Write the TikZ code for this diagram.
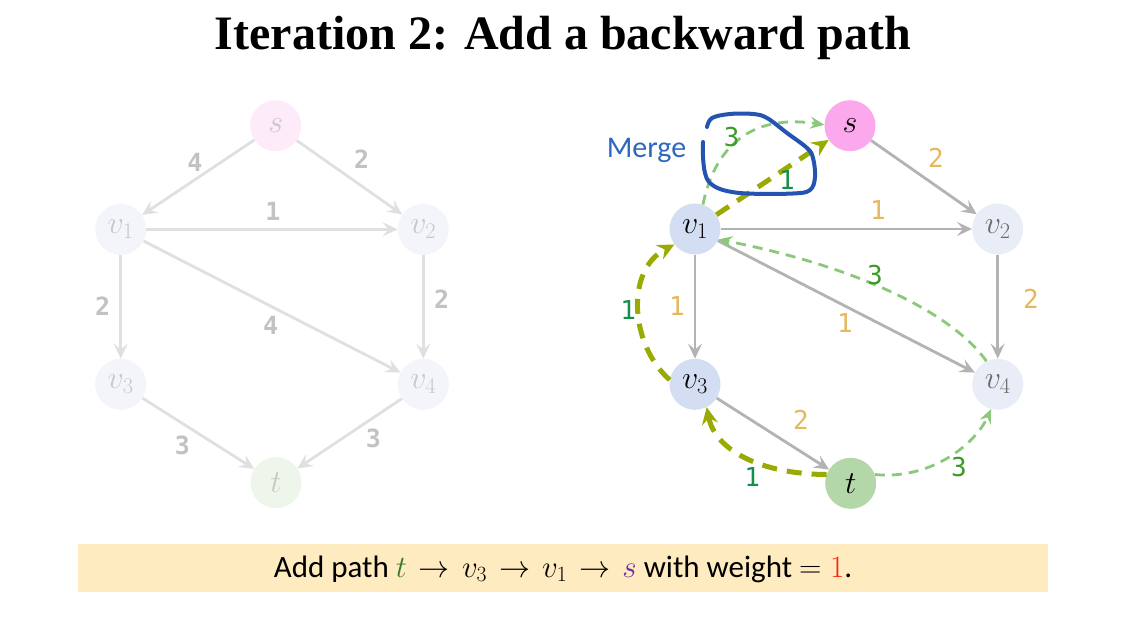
\RequirePackage{fix-cm}
\documentclass[tikz,border=0pt]{standalone}
\usepackage{fontspec}
\setmainfont{Carlito}
\newfontfamily\titlefont{Liberation Serif}
\newfontfamily\lblfont{DejaVu Sans Mono}
\usetikzlibrary{arrows.meta}
\definecolor{fadeedge}{HTML}{E0E0E0}
\definecolor{fadelbl}{HTML}{C2C2C2}
\definecolor{fadetxt}{HTML}{C8C8C8}
\definecolor{fadepink}{HTML}{FDEBF9}
\definecolor{fadeblue}{HTML}{F4F5FB}
\definecolor{fadegreen}{HTML}{EEF6EC}
\definecolor{grayedge}{HTML}{B3B3B3}
\definecolor{orlbl}{HTML}{E6B75F}
\definecolor{pinkfill}{HTML}{FBA8EC}
\definecolor{bluefill}{HTML}{D4DEF2}
\definecolor{paleblue}{HTML}{E8EDF8}
\definecolor{greenfill}{HTML}{B3D7A8}
\definecolor{greytxt}{HTML}{6B6B6B}
\definecolor{lgreen}{HTML}{8CC87A}
\definecolor{olive}{HTML}{99AA00}
\definecolor{lbl3}{HTML}{3C9A2A}
\definecolor{lbl1}{HTML}{14904A}
\definecolor{mergeblue}{HTML}{2F67C0}
\definecolor{loopblue}{HTML}{2355B0}
\definecolor{boxfill}{HTML}{FEEBC0}
\definecolor{tgreen}{HTML}{3A7A2A}
\definecolor{spurple}{HTML}{7030A0}
\definecolor{wred}{HTML}{FF2010}
\newcommand{\sparrow}{\mkern2mu\rightarrow\mkern2mu}
\begin{document}
\begin{tikzpicture}[x=1pt,y=-1pt,
  vnode/.style={circle,minimum size=51pt,inner sep=0pt,font=\fontsize{32}{34}\selectfont},
  fadenode/.style={vnode,text=fadetxt},
  fadeedge/.style={draw=fadeedge,line width=2.8pt,-{Stealth[length=15pt,width=14pt,inset=6pt]}},
  grayedge/.style={draw=grayedge,line width=2.8pt,-{Stealth[length=15pt,width=14pt,inset=6pt]}},
  fadelbl/.style={font=\lblfont\bfseries\fontsize{25}{27}\selectfont,text=fadelbl},
  orlbl/.style={font=\lblfont\fontsize{26}{28}\selectfont,text=orlbl},
  res3/.style={draw=lgreen,line width=2.8pt,dash pattern=on 10pt off 7pt,-{Stealth[length=14pt,width=12pt,inset=5pt]}},
  aug/.style={draw=olive,line width=5pt,dash pattern=on 15pt off 10pt,-{Stealth[length=17pt,width=16pt,inset=6pt]}},
  lbl3/.style={font=\lblfont\fontsize{26}{28}\selectfont,text=lbl3},
  lbl1/.style={font=\lblfont\fontsize{26}{28}\selectfont,text=lbl1},
]
\useasboundingbox (0,0) rectangle (1129,623);
\fill[white] (0,0) rectangle (1129,623);
% title
\node[font=\titlefont\bfseries\fontsize{48}{52}\selectfont] (title) at (563,38) {Iteration 2: Add a backward path};
% left graph
\node[fadenode,fill=fadepink] (ls) at (275.7,125.7) {$s$};
\node[fadenode,fill=fadeblue] (lv1) at (120.7,229.3) {$v_1$};
\node[fadenode,fill=fadeblue] (lv2) at (423.3,229.3) {$v_2$};
\node[fadenode,fill=fadeblue] (lv3) at (120.7,384.3) {$v_3$};
\node[fadenode,fill=fadeblue] (lv4) at (423.3,384.3) {$v_4$};
\node[fadenode,fill=fadegreen] (lt) at (276,482.7) {$t$};
\draw[fadeedge] (ls) -- (lv1);
\draw[fadeedge] (ls) -- (lv2);
\draw[fadeedge] (lv1) -- (lv2);
\draw[fadeedge] (lv1) -- (lv3);
\draw[fadeedge] (lv1) -- (lv4);
\draw[fadeedge] (lv2) -- (lv4);
\draw[fadeedge] (lv3) -- (lt);
\draw[fadeedge] (lv4) -- (lt);
\node[fadelbl] (la) at (195,162) {4};
\node[fadelbl] (lb) at (361.7,159) {2};
\node[fadelbl] (lc) at (273,211.7) {1};
\node[fadelbl] (ld) at (102.7,306.7) {2};
\node[fadelbl] (le) at (270.7,325) {4};
\node[fadelbl] (lf) at (441.7,299) {2};
\node[fadelbl] (lg) at (182.3,445) {3};
\node[fadelbl] (lh) at (373.3,438.3) {3};
% right graph
\node[vnode,fill=pinkfill] (rs) at (850,125.7) {$s$};
\node[vnode,fill=bluefill] (rv1) at (695,229) {$v_1$};
\node[vnode,fill=paleblue,text=greytxt] (rv2) at (997.7,229) {$v_2$};
\node[vnode,fill=bluefill] (rv3) at (695,384.3) {$v_3$};
\node[vnode,fill=paleblue,text=greytxt] (rv4) at (997.7,384.3) {$v_4$};
\node[vnode,fill=greenfill] (rt) at (850.7,483.3) {$t$};
\draw[grayedge] (rs) -- (rv2);
\draw[grayedge] (rv1) -- (rv2);
\draw[grayedge] (rv1) -- (rv3);
\draw[grayedge] (rv1) -- (rv4);
\draw[grayedge] (rv2) -- (rv4);
\draw[grayedge] (rv3) -- (rt);
\node[orlbl] (ra) at (936,158) {2};
\node[orlbl] (rb) at (878,210) {1};
\node[orlbl] (rc) at (677,306) {1};
\node[orlbl] (rd) at (845,323) {1};
\node[orlbl] (re) at (1031,299) {2};
\node[orlbl] (rf) at (801,420) {2};
% residual backward edges
\draw[res3] (rv1.72) .. controls (712,160) and (740,112) .. (rs.178);
\draw[res3] (rv4.116) .. controls (950,310) and (850,265) .. (rv1.336);
\draw[res3] (rt.20) .. controls (930,480) and (975,445) .. (rv4.255);
\node[lbl3] (g1) at (731.7,136.7) {3};
\node[lbl3] (g2) at (875,275) {3};
\node[lbl3] (g3) at (959,466.7) {3};
% augmenting path
\draw[aug] (rt.160) .. controls (760,474) and (715,450) .. (rv3.297);
\draw[aug] (rv3.170) .. controls (630,345) and (625,270) .. (rv1.217);
\draw[aug] (rv1) -- (rs);
\node[lbl1] (p1) at (752.3,476.7) {1};
\node[lbl1] (p2) at (628.3,310) {1};
\node[lbl1] (p3) at (787,180) {1};
% merge annotation
\draw[loopblue,line width=4pt,line cap=round,line join=round] plot[smooth,tension=0.6] coordinates {(707,127) (712,118) (730,114) (753,114) (767,118) (787,133) (807,148) (813,158) (815,177) (810,190) (793,193.5) (747,193.5) (723,190) (710,183) (705,173) (703,157) (703,142)};
\node[text=mergeblue,font=\fontsize{30}{32}\selectfont] (merge) at (646.5,150) {Merge};
% bottom box
\node[fill=boxfill,minimum width=970pt,minimum height=48pt,inner sep=0pt] (box) at (563,568) {};
\node[font=\fontsize{31}{34}\selectfont] (caption) at (563,569) {Add path $\textcolor{tgreen}{t}\sparrow v_3\sparrow v_1\sparrow \textcolor{spurple}{s}$ with weight $=\textcolor{wred}{1}$.};
\end{tikzpicture}
\end{document}
